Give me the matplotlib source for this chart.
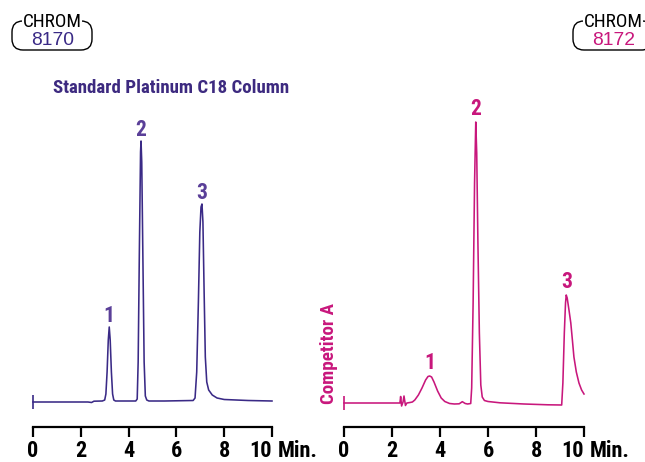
import os
import matplotlib
matplotlib.use("Agg")
import matplotlib.pyplot as plt
from matplotlib.patches import FancyBboxPatch
from matplotlib.transforms import Affine2D
from matplotlib.font_manager import FontProperties, fontManager

# ---------------- data ----------------
left_time = [0.0, 1.5, 2.3, 2.45, 2.55, 2.9, 3.0, 3.05, 3.1, 3.15, 3.19, 3.23, 3.28, 3.33,
             3.38, 3.45, 3.8, 4.30, 4.36, 4.40, 4.45, 4.50, 4.52, 4.55, 4.60, 4.65, 4.70,
             4.76, 4.85, 5.5, 6.7, 6.78, 6.85, 6.92, 6.98, 7.03, 7.07, 7.11, 7.16, 7.21,
             7.27, 7.35, 7.5, 7.7, 8.0, 9.0, 10.0]
left_signal = [0.0, 0.0, 0.0, -0.5, 0.8, 1.0, 2.0, 8.0, 30.0, 62.0, 75.0, 62.0, 30.0, 8.0,
               2.0, 1.0, 1.0, 1.0, 3.0, 40.0, 150.0, 250.0, 261.0, 240.0, 140.0, 40.0, 6.0,
               2.0, 1.0, 1.0, 1.5, 4.0, 30.0, 100.0, 170.0, 195.0, 198.0, 180.0, 110.0, 45.0,
               20.0, 12.0, 7.0, 4.0, 2.5, 1.5, 1.0]

right_time = [0.0, 1.5, 2.33, 2.36, 2.40, 2.46, 2.50, 2.56, 2.62, 2.75, 2.85, 2.95, 3.1,
              3.25, 3.4, 3.5, 3.57, 3.65, 3.75, 3.9, 4.05, 4.2, 4.4, 4.6, 4.8, 4.93, 5.05,
              5.15, 5.28, 5.32, 5.38, 5.44, 5.49, 5.53, 5.58, 5.64, 5.70, 5.76, 5.85, 6.0,
              6.5, 7.5, 8.5, 9.07, 9.12, 9.18, 9.23, 9.26, 9.30, 9.38, 9.45, 9.52, 9.58,
              9.68, 9.79, 9.9, 10.0]
right_signal = [0.0, 0.0, 0.0, 6.5, -3.0, 1.0, 7.0, -2.5, 0.0, 0.5, 1.0, 3.0, 8.0,
                15.0, 23.0, 26.5, 27.0, 26.0, 21.0, 12.0, 5.0, 1.5, -0.5, -1.0, -0.8, 1.3, -0.5,
                -1.0, -0.5, 15.0, 100.0, 220.0, 281.0, 250.0, 160.0, 70.0, 18.0, 6.0, 2.5, 1.5,
                0.2, -1.0, -1.8, -2.0, 20.0, 70.0, 100.0, 108.0, 105.0, 92.0, 80.0, 62.0, 46.0,
                31.0, 20.0, 13.0, 9.0]

peak_names = ["1", "2", "3"]
left_peak_time = [3.19, 4.52, 7.07]
left_peak_height = [75.0, 261.0, 198.0]
right_peak_time = [3.57, 5.49, 9.26]
right_peak_height = [27.0, 281.0, 108.0]

tick_values = [0, 2, 4, 6, 8, 10]
tick_labels = ["0", "2", "4", "6", "8", "10"]

title_left = "Standard Platinum C18 Column"
title_right = "Competitor A"
chrom_left = "8170"
chrom_right = "8172"

# ---------------- style ----------------
W, H = 645, 462
C_LEFT = "#3a2a86"
C_LEFT_LBL = "#5a3f98"
C_TITLE = "#3d2a80"
C_RIGHT = "#c8177c"


def find_condensed(bold):
    prefs = ["liberationsansnarrow", "robotocondensed", "dejavusanscondensed",
             "notosans", "opensans", "lato", "inter", "roboto", ""]
    found = []
    for f in fontManager.ttflist:
        fn = os.path.basename(f.fname).lower().replace("-", "").replace("_", "")
        nm = f.name.lower()
        cond = ("condensed" in fn or "narrow" in fn or "condensed" in nm or "narrow" in nm
                or str(f.stretch) in ("condensed", "semi-condensed", "extra-condensed",
                                      "ultra-condensed"))
        if not cond or "italic" in fn or "oblique" in fn or str(f.style) != "normal":
            continue
        if "semi" in fn or "extra" in fn or "ultra" in fn:
            continue
        try:
            w = int(f.weight)
        except Exception:
            w = 700 if "bold" in fn else 400
        if bold and not (w >= 650 or "bold" in fn):
            continue
        if not bold and (w >= 600 or "bold" in fn or "light" in fn or "thin" in fn
                         or "medium" in fn or "black" in fn):
            continue
        rank = len(prefs)
        for i, p in enumerate(prefs):
            if p and fn.startswith(p):
                rank = i
                break
        found.append((rank, fn, f.fname))
    found.sort()
    return found[0][2] if found else None


BOLD_C = find_condensed(True)
REG_C = find_condensed(False)
REG = "Liberation Sans"


def fp_narrow(size):
    if BOLD_C:
        return FontProperties(fname=BOLD_C, size=size)
    return FontProperties(family="DejaVu Sans", weight="bold", size=size * 0.85)


def fp_narrow_reg(size):
    if REG_C:
        return FontProperties(fname=REG_C, size=size)
    return FontProperties(family="Liberation Sans", size=size)


fig = plt.figure(figsize=(W / 100, H / 100), dpi=100)
fig.patch.set_facecolor("white")
px = Affine2D().scale(1 / 100.0).scale(1, -1).translate(0, H / 100.0) + fig.dpi_scale_trans

TICK_LEN = 7.5
TICK_PAD = 1.6
TICK_FS = 16


def make_axes(x0, x1, ylo, yhi):
    ax = fig.add_axes([x0 / W, (H - 427) / H, (x1 - x0) / W, (427 - 100) / H])
    ax.set_xlim(0, 10)
    ax.set_ylim(ylo, yhi)
    for s in ("top", "left", "right"):
        ax.spines[s].set_visible(False)
    ax.spines["bottom"].set_linewidth(1.6)
    ax.spines["bottom"].set_color("black")
    ax.set_yticks([])
    ax.set_xticks(tick_values, labels=tick_labels, fontproperties=fp_narrow(TICK_FS))
    ax.tick_params(axis="x", direction="out", length=TICK_LEN, width=1.6, pad=TICK_PAD,
                   colors="black")
    ax.get_xticklabels()[-1].set_horizontalalignment("right")
    ax.annotate("Min.", xy=(1, 0), xycoords="axes fraction",
                xytext=(4, -(TICK_LEN + TICK_PAD)),
                textcoords="offset points", ha="left", va="top",
                fontproperties=fp_narrow(TICK_FS))
    ax.patch.set_alpha(0)
    return ax


ax1 = make_axes(33, 272, -25, 302)
ax2 = make_axes(344, 584, -24, 303)

ax1.plot(left_time, left_signal, color=C_LEFT, lw=1.15, clip_on=False, solid_joinstyle="round")
ax1.plot([left_time[0]], [left_signal[0]], marker="|", ms=10, mew=1.2, color=C_LEFT, clip_on=False)
ax2.plot(right_time, right_signal, color=C_RIGHT, lw=1.15, clip_on=False, solid_joinstyle="round")
ax2.plot([right_time[0]], [right_signal[0]], marker="|", ms=10, mew=1.2, color=C_RIGHT, clip_on=False)

for n, t, h in zip(peak_names, left_peak_time, left_peak_height):
    ax1.annotate(n, xy=(t, h), xytext=(0, 3.8), textcoords="offset points",
                 ha="center", va="baseline", color=C_LEFT_LBL, fontproperties=fp_narrow(15.5))
for n, t, h in zip(peak_names, right_peak_time, right_peak_height):
    ax2.annotate(n, xy=(t, h), xytext=(0, 5.2), textcoords="offset points",
                 ha="center", va="baseline", color=C_RIGHT, fontproperties=fp_narrow(15.5))

renderer = fig.canvas.get_renderer()


def fit(txt, target):
    bb = txt.get_window_extent(renderer)
    txt.set_fontsize(txt.get_fontsize() * target / bb.width)


t1 = fig.text(53, 93, title_left, transform=px, ha="left", va="baseline",
              color=C_TITLE, fontproperties=fp_narrow(14))
fit(t1, 238)

t2 = fig.text(334, 404, title_right, transform=px, ha="left", va="baseline",
              rotation=0, rotation_mode="anchor", color=C_RIGHT,
              fontproperties=fp_narrow(14))
fit(t2, 101)
t2.set_rotation(90)

# CHROM badges
for bx, num, col in ((12, chrom_left, C_LEFT), (573, chrom_right, C_RIGHT)):
    box = FancyBboxPatch((bx, 21), 80, 29, boxstyle="round,pad=0,rounding_size=11",
                         transform=px, fill=False, edgecolor="black", lw=1.0)
    fig.patches.append(box)
    cx = bx + 40
    c = fig.text(cx, 27, "CHROM", transform=px, ha="center", va="baseline",
                 color="black", fontproperties=fp_narrow_reg(13),
                 bbox=dict(facecolor="white", edgecolor="none", pad=0.5))
    fit(c, 59)
    n = fig.text(cx + 1, 45, num, transform=px, ha="center", va="baseline",
                 color=col, fontproperties=FontProperties(family=REG, size=14))
    fit(n, 43)

fig.savefig("out.png", dpi=100)
